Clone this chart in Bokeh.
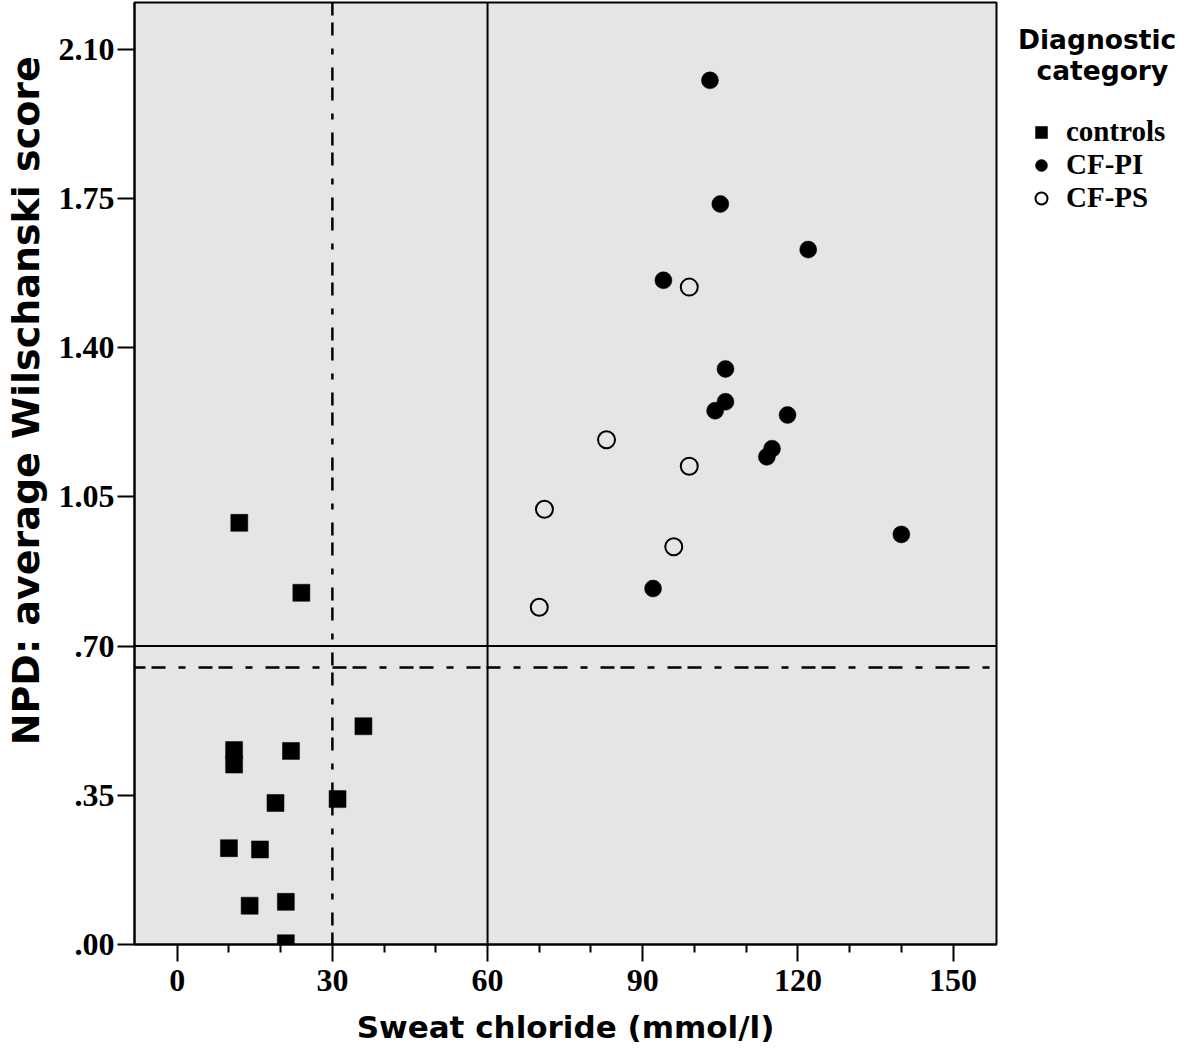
from bokeh.plotting import figure
from bokeh.models import (Range1d, FixedTicker, Span, Legend, LegendItem)
from bokeh.embed import file_html
from bokeh.resources import INLINE

# ---------------- data ----------------
controls_x = [12, 24, 36, 11, 11, 22, 19, 31, 10, 16, 14, 21, 21]
controls_y = [0.989, 0.825, 0.512, 0.456, 0.422, 0.454, 0.332, 0.341, 0.226, 0.223, 0.091, 0.100, 0.003]

cfpi_x = [103, 105, 122, 94, 106, 106, 104, 118, 115, 114, 140, 92]
cfpi_y = [2.027, 1.737, 1.630, 1.558, 1.350, 1.273, 1.252, 1.242, 1.163, 1.144, 0.962, 0.835]

cfps_x = [99, 83, 99, 71, 96, 70]
cfps_y = [1.542, 1.184, 1.122, 1.021, 0.933, 0.791]

x_ticks = [0, 30, 60, 90, 120, 150]
x_minor = [10, 20, 40, 50, 70, 80, 100, 110, 130, 140]
y_ticks = [0.0, 0.35, 0.70, 1.05, 1.40, 1.75, 2.10]
y_tick_labels = [".00", ".35", ".70", "1.05", "1.40", "1.75", "2.10"]

sweat_cutoffs = [30, 60]        # dashed, solid
npd_cutoffs = [0.65, 0.70]      # dashed, solid

x_title = "Sweat chloride (mmol/l)"
y_title = "NPD: average Wilschanski score"
legend_title_lines = ["Diagnostic", "category"]
series_names = ["controls", "CF-PI", "CF-PS"]

serif = "Liberation Serif"
sans = "DejaVu Sans"

TOTAL_H = 1055

# ---------------- figure ----------------
p = figure(frame_width=862, frame_height=942,
           min_border_left=133, min_border_right=205,
           min_border_top=2, min_border_bottom=TOTAL_H - 942 - 2,
           x_range=Range1d(-8.26, 158.4), y_range=Range1d(0, 2.2096),
           output_backend="svg", toolbar_location=None)

p.background_fill_color = "#e5e5e5"
p.border_fill_color = "white"
p.outline_line_color = "black"
p.outline_line_width = 2
p.xgrid.visible = False
p.ygrid.visible = False

xa = p.xaxis[0]
xa.ticker = FixedTicker(ticks=x_ticks, minor_ticks=x_minor)
ya = p.yaxis[0]
ya.ticker = FixedTicker(ticks=y_ticks, minor_ticks=[])
ya.major_label_overrides = {t: l for t, l in zip(y_ticks, y_tick_labels)}

for ax in (xa, ya):
    ax.axis_line_color = "black"
    ax.axis_line_width = 2
    ax.major_tick_line_color = "black"
    ax.major_tick_line_width = 2
    ax.major_tick_in = 0
    ax.major_tick_out = 17
    ax.minor_tick_line_color = "black"
    ax.minor_tick_line_width = 2
    ax.minor_tick_in = 0
    ax.minor_tick_out = 8
    ax.major_label_text_font = serif
    ax.major_label_text_font_style = "bold"
    ax.major_label_text_font_size = "32px"
    ax.major_label_text_color = "black"
    ax.axis_label_text_font = sans
    ax.axis_label_text_font_style = "bold"
    ax.axis_label_text_color = "black"

xa.axis_label = x_title
xa.axis_label_text_font_size = "31px"
xa.major_label_standoff = 8
xa.axis_label_standoff = 15
# the reference label sits above the frame's centre: pad its start with no-break spaces
ya.axis_label = "\u00a0" * 11 + y_title
ya.axis_label_text_font_size = "38px"
ya.major_label_standoff = 3
ya.axis_label_standoff = 8

# reference lines
p.add_layout(Span(location=sweat_cutoffs[1], dimension="height", line_color="black", line_width=2))
p.add_layout(Span(location=npd_cutoffs[1], dimension="width", line_color="black", line_width=2))
p.add_layout(Span(location=sweat_cutoffs[0], dimension="height", line_color="black", line_width=2.5,
                  line_dash="13 7 13 13 6 13"))
p.add_layout(Span(location=npd_cutoffs[0], dimension="width", line_color="black", line_width=2.5,
                  line_dash="14 6 14 13 7 13", line_dash_offset=3))

# points
r_ctrl = p.scatter(controls_x, controls_y, marker="square", size=17,
                   fill_color="black", line_color="black", line_width=0.5)
r_pi = p.scatter(cfpi_x, cfpi_y, marker="circle", size=17,
                 fill_color="black", line_color="black", line_width=0.5)
r_ps = p.scatter(cfps_x, cfps_y, marker="circle", size=17,
                 fill_color=None, line_color="black", line_width=2)

# title: second line nudged right with no-break spaces so it sits centred under the first
legend_title = legend_title_lines[0] + "\n" + "\u00a0\u00a0" + legend_title_lines[1]

legend = Legend(items=[LegendItem(label=n, renderers=[r])
                       for n, r in zip(series_names, [r_ctrl, r_pi, r_ps])],
                location="top_left", margin=22, padding=0, spacing=0,
                glyph_width=46, glyph_height=30, label_height=29,
                label_standoff=2, border_line_color=None,
                background_fill_alpha=0,
                label_text_font=serif, label_text_font_style="bold",
                label_text_font_size="29px", label_text_color="black",
                title=legend_title, title_text_font=sans,
                title_text_font_style="bold", title_text_font_size="26.5px",
                title_text_line_height=1.0,
                title_text_color="black", title_standoff=29)
p.add_layout(legend, "right")

open("out.html", "w").write(file_html(p, INLINE))
